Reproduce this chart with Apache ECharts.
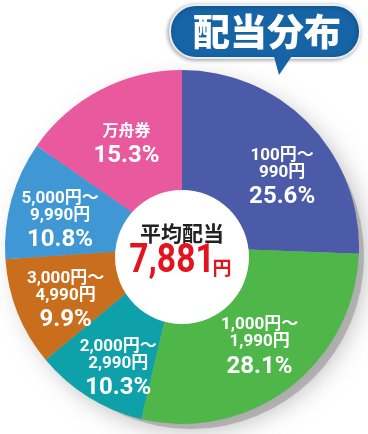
<!DOCTYPE html>
<html>
<head>
<meta charset="utf-8">
<script src="https://cdn.jsdelivr.net/npm/echarts@6/dist/echarts.min.js"></script>
<style>
html,body{margin:0;padding:0;background:#fff;}
#chart{width:368px;height:434px;}
</style>
</head>
<body>
<div id="chart"></div>
<script>
// ---- data ----
const categories = ['100円～990円', '1,000円～1,990円', '2,000円～2,990円', '3,000円～4,990円', '5,000円～9,990円', '万舟券'];
const shares = [25.6, 28.1, 10.3, 9.9, 10.8, 15.3];
const titleText = '配当分布';
const centerLabel = '平均配当';
const avgPayout = '7,881';
const avgUnit = '円';

// ---- style ----
const palette = ['#4b5ba8', '#4fb74a', '#0fa1a9', '#c96e1c', '#3f97d3', '#e9599d'];
const labelNudges = [[9, 21], [1, 2], [3, 17], [1, 9], [0, 10], [3, 11]];
const condensed = "Roboto,'Noto Sans CJK JP',sans-serif";
const CX = 182, CY = 247, R = 177;

const chart = echarts.init(document.getElementById('chart'), null, {renderer: 'canvas'});

const pieData = categories.map((c, i) => ({name: c, value: shares[i]}));
const labelData = categories.map((c, i) => ({name: c, value: shares[i], label: {offset: labelNudges[i]}}));

function fmt(p) {
  const name = p.name;
  const k = name.indexOf('～');
  const lines = k >= 0 ? [name.slice(0, k + 1), name.slice(k + 1)] : [name];
  const style = k >= 0 ? 'a' : 'c';
  return lines.map(l => '{' + style + '|' + l + '}').join('\n') + '\n{b|' + p.value.toFixed(1) + '%}';
}

chart.setOption({
  animation: false,
  color: palette,
  graphic: {
    elements: [
      { type: 'circle', z: 0, shape: {cx: CX + 9, cy: CY + 9, r: R - 4},
        style: {fill: 'rgba(160,160,160,0.7)', shadowBlur: 26, shadowColor: 'rgba(140,140,140,0.9)'} },
      { type: 'circle', z: 100, shape: {cx: 182, cy: 257, r: 67}, style: {fill: '#fff'} },
      { type: 'text', z: 101, x: 182, y: 233,
        style: {text: centerLabel, fill: '#222', font: "bold 21px 'Noto Sans CJK JP'", align: 'center', verticalAlign: 'middle'} },
      { type: 'text', z: 101, x: 172, y: 262, scaleX: 0.84,
        style: {text: avgPayout, fill: '#e3141f', font: "bold 40px Roboto", align: 'center', verticalAlign: 'middle'} },
      { type: 'text', z: 101, x: 222, y: 268,
        style: {text: avgUnit, fill: '#e3141f', font: "bold 19px 'Noto Sans CJK JP'", align: 'center', verticalAlign: 'middle'} },
      // badge
      { type: 'rect', z: 110, shape: {x: 170, y: 5, width: 190, height: 53, r: 26},
        style: {fill: '#1664a6', stroke: '#e8eef6', lineWidth: 2, shadowBlur: 4, shadowColor: 'rgba(0,0,0,0.35)', shadowOffsetX: -1, shadowOffsetY: 1} },
      { type: 'polygon', z: 111, shape: {points: [[273, 53], [294, 53], [279, 75]]}, style: {fill: '#1664a6'} },
      { type: 'text', z: 112, x: 267, y: 32,
        style: {text: titleText, fill: '#fff', font: "900 37px 'Noto Sans CJK JP'", align: 'center', verticalAlign: 'middle'} }
    ]
  },
  series: [
    {
      type: 'pie', z: 2, center: [CX, CY], radius: [0, R], startAngle: 90, clockwise: true,
      silent: true, label: {show: false}, labelLine: {show: false},
      emphasis: {disabled: true},
      data: pieData
    },
    {
      type: 'pie', z: 200, center: [CX, CY], radius: [70, R], startAngle: 90, clockwise: true,
      silent: true, itemStyle: {color: 'rgba(0,0,0,0)'}, labelLine: {show: false},
      emphasis: {disabled: true},
      label: {
        show: true, position: 'inside', formatter: fmt, color: '#fff',
        rich: {
          a: {fontSize: 17, lineHeight: 17, fontWeight: 'bold', color: '#fff', fontFamily: condensed},
          c: {fontSize: 16, lineHeight: 20, fontWeight: 'bold', color: '#fff', fontFamily: "'Noto Sans CJK JP'"},
          b: {fontSize: 24, lineHeight: 32, fontWeight: 'bold', color: '#fff', fontFamily: condensed}
        }
      },
      data: labelData
    }
  ]
});
</script>
</body>
</html>
